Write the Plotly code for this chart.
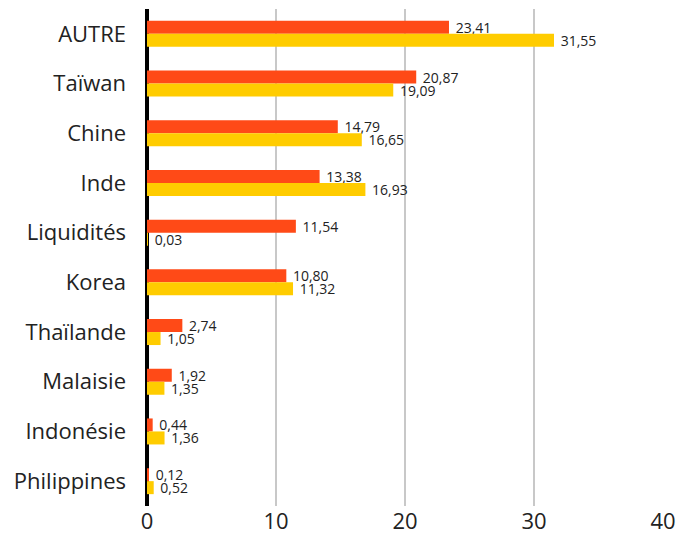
import plotly.graph_objects as go

categories = ["AUTRE", "Taïwan", "Chine", "Inde", "Liquidités", "Korea",
              "Thaïlande", "Malaisie", "Indonésie", "Philippines"]
series_a = [23.41, 20.87, 14.79, 13.38, 11.54, 10.80, 2.74, 1.92, 0.44, 0.12]
series_b = [31.55, 19.09, 16.65, 16.93, 0.03, 11.32, 1.05, 1.35, 1.36, 0.52]
x_ticks = [0, 10, 20, 30, 40]

FONT = "'Open Sans', 'Noto Sans', sans-serif"

fig = go.Figure()
fig.add_trace(go.Bar(
    y=categories, x=series_a, orientation="h", name="A",
    marker=dict(color="#FF4A17", line=dict(width=0)),
    texttemplate=" %{x:.2f}", textposition="outside", cliponaxis=False,
    textfont=dict(size=14, color="#222222", family=FONT),
))
fig.add_trace(go.Bar(
    y=categories, x=series_b, orientation="h", name="B",
    marker=dict(color="#FFCC00", line=dict(width=0)),
    texttemplate=" %{x:.2f}", textposition="outside", cliponaxis=False,
    textfont=dict(size=14, color="#222222", family=FONT),
))

# page body adds an 8px offset, so margins compensate for it
fig.update_layout(
    width=694, height=534,
    margin=dict(l=139, r=39, t=1, b=36),
    barmode="group", bargap=0.477, bargroupgap=0,
    showlegend=False,
    separators=", ",
    plot_bgcolor="white", paper_bgcolor="white",
    font=dict(family=FONT, color="#222222"),
    uniformtext=dict(minsize=13, mode="show"),
)
fig.update_xaxes(
    range=[0, 40], tickvals=x_ticks, ticktext=[str(v) for v in x_ticks],
    showgrid=True, gridcolor="#C8C8C8", gridwidth=2,
    zeroline=True, zerolinecolor="#000000", zerolinewidth=4,
    tickfont=dict(size=22, color="#222222"), ticks="", showline=False,
    automargin=False,
)
fig.update_yaxes(
    autorange="reversed", showgrid=False, ticks="", showline=False,
    tickfont=dict(size=22, color="#222222"), ticklabelstandoff=20,
    automargin=False,
)

fig.write_html("out.html")
